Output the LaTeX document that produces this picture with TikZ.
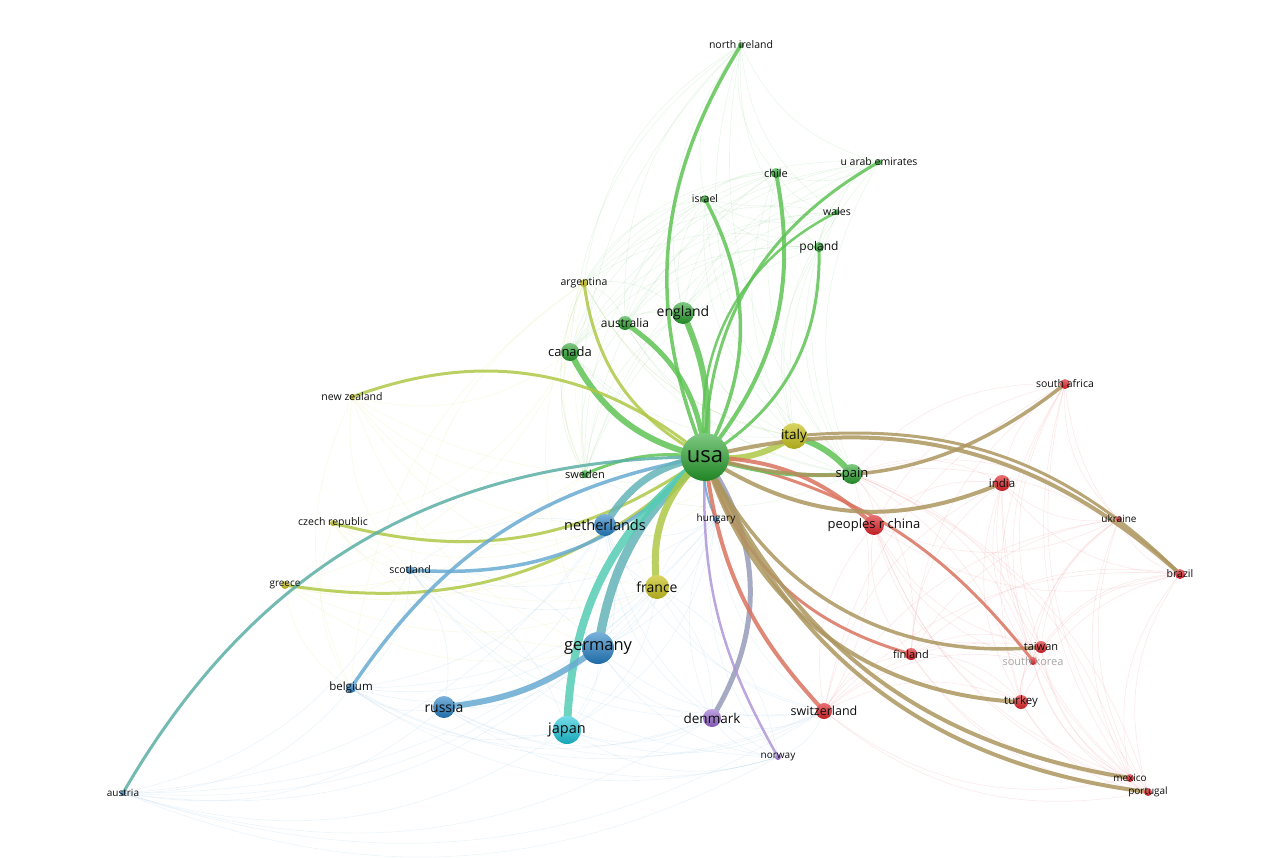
\documentclass[tikz,border=0pt]{standalone}
\usepackage{fontspec}
\setmainfont{Open Sans}
\usetikzlibrary{backgrounds}
% cluster colours
\definecolor{cgreen}{RGB}{40,165,45}
\definecolor{cred}{RGB}{222,35,40}
\definecolor{cblue}{RGB}{35,125,195}
\definecolor{cyel}{RGB}{200,195,30}
\definecolor{ccyan}{RGB}{25,195,215}
\definecolor{cpurp}{RGB}{150,100,205}
% link colours
\definecolor{eGreen}{RGB}{95,195,85}
\definecolor{eYel}{RGB}{175,200,70}
\definecolor{eTeal}{RGB}{90,175,165}
\definecolor{eBlue}{RGB}{105,170,210}
\definecolor{eNeth}{RGB}{100,180,185}
\definecolor{eCyan}{RGB}{85,205,180}
\definecolor{eGrey}{RGB}{150,155,185}
\definecolor{ePurp}{RGB}{175,150,215}
\definecolor{eOlive}{RGB}{172,150,95}
\definecolor{eRed}{RGB}{218,115,95}
\tikzset{
  dot/.style={circle, inner sep=0pt, outer sep=0pt, minimum size=#1},
  grn/.style={dot=#1, top color=cgreen!60!white, bottom color=cgreen!80!black},
  red/.style={dot=#1, top color=cred!65!white, bottom color=cred!85!black},
  blu/.style={dot=#1, top color=cblue!60!white, bottom color=cblue!85!black},
  yel/.style={dot=#1, top color=cyel!70!white, bottom color=cyel!85!black},
  cya/.style={dot=#1, top color=ccyan!60!white, bottom color=ccyan!85!black},
  pur/.style={dot=#1, top color=cpurp!60!white, bottom color=cpurp!85!black},
  lab/.style={font=\fontsize{#1}{#1}\selectfont, text=black!95, inner sep=0pt},
  link/.style={line cap=round, opacity=0.85},
  faint/.style={line width=0.7pt, opacity=0.13},
}
\begin{document}
\begin{tikzpicture}[x=1pt,y=-1pt]
\useasboundingbox (0,0) rectangle (1281,858);
% nodes
\node[grn=48pt] (usa) at (705,457) {};
\node[yel=26pt] (italy) at (794,436) {};
\node[grn=20pt] (spain) at (852,474) {};
\node[red=20pt] (china) at (874,525) {};
\node[red=16pt] (india) at (1002,483) {};
\node[red=10pt] (safrica) at (1065,384) {};
\node[red=6pt] (ukraine) at (1119,519) {};
\node[red=10pt] (brazil) at (1180,574) {};
\node[red=12pt] (taiwan) at (1041,647) {};
\node[red=8pt] (skorea) at (1033,661) {};
\node[red=14pt] (turkey) at (1021,702) {};
\node[red=12pt] (finland) at (911,654) {};
\node[red=16pt] (swiss) at (824,711) {};
\node[red=8pt] (mexico) at (1130,778) {};
\node[red=8pt] (portugal) at (1148,792) {};
\node[pur=18pt] (denmark) at (712,718) {};
\node[pur=6pt] (norway) at (778,757) {};
\node[blu=6pt] (hungary) at (716,519) {};
\node[yel=24pt] (france) at (657,587) {};
\node[blu=32pt] (germany) at (598,648) {};
\node[cya=28pt] (japan) at (567,730) {};
\node[blu=22pt] (russia) at (444,707) {};
\node[blu=10pt] (belgium) at (351,688) {};
\node[blu=6pt] (austria) at (123,793) {};
\node[blu=22pt] (nether) at (605,525) {};
\node[blu=8pt] (scotland) at (410,570) {};
\node[yel=8pt] (greece) at (285,585) {};
\node[yel=6pt] (czech) at (333,523) {};
\node[grn=8pt] (sweden) at (585,474) {};
\node[yel=6pt] (nzealand) at (352,397) {};
\node[grn=18pt] (canada) at (570,352) {};
\node[grn=14pt] (australia) at (625,323) {};
\node[grn=22pt] (england) at (683,313) {};
\node[yel=8pt] (argentina) at (584,283) {};
\node[grn=8pt] (israel) at (705,199) {};
\node[grn=10pt] (chile) at (776,173) {};
\node[grn=6pt] (nire) at (741,45) {};
\node[grn=6pt] (uae) at (879,162) {};
\node[grn=6pt] (wales) at (837,212) {};
\node[grn=10pt] (poland) at (819,247) {};
\begin{scope}[on background layer]
% faint web
\foreach \a [count=\i] in {nire,chile,israel,uae,wales,poland,england,australia,canada,argentina,sweden,spain,italy}
  \foreach \b [count=\j] in {nire,chile,israel,uae,wales,poland,england,australia,canada,argentina,sweden,spain,italy}
    {\ifnum\j>\i \draw[faint, cgreen!70] (\a.center) to[bend right=25] (\b.center);\fi}
\foreach \a [count=\i] in {safrica,india,china,ukraine,brazil,taiwan,skorea,turkey,finland,swiss,mexico,portugal,spain}
  \foreach \b [count=\j] in {safrica,india,china,ukraine,brazil,taiwan,skorea,turkey,finland,swiss,mexico,portugal,spain}
    {\ifnum\j>\i \draw[faint, cred!70] (\a.center) to[bend right=25] (\b.center);\fi}
\foreach \a [count=\i] in {austria,belgium,russia,japan,germany,nether,scotland,hungary,denmark,norway,france,swiss}
  \foreach \b [count=\j] in {austria,belgium,russia,japan,germany,nether,scotland,hungary,denmark,norway,france,swiss}
    {\ifnum\j>\i \draw[faint, cblue!60] (\a.center) to[bend right=25] (\b.center);\fi}
\foreach \a in {nzealand,czech,greece,argentina}
  \foreach \b in {canada,sweden,nether,france,germany,italy,belgium,scotland}
    {\draw[faint, cyel!70] (\a.center) to[bend right=25] (\b.center);}
% links of usa
\draw[link, eGreen, line width=3.5pt] (usa.center) to[bend left=27] (nire.center);
\draw[link, eGreen, line width=3.5pt] (usa.center) to[bend right=28] (israel.center);
\draw[link, eGreen, line width=4pt] (usa.center) to[bend right=25] (chile.center);
\draw[link, eGreen, line width=3pt] (usa.center) to[bend left=30] (uae.center);
\draw[link, eGreen, line width=2.5pt] (usa.center) to[bend left=35] (wales.center);
\draw[link, eGreen, line width=3pt] (usa.center) to[bend right=30] (poland.center);
\draw[link, eGreen, line width=6pt] (usa.center) to[bend right=15] (england.center);
\draw[link, eGreen, line width=5pt] (usa.center) to[bend right=25] (australia.center);
\draw[link, eGreen, line width=6pt] (usa.center) to[bend left=25] (canada.center);
\draw[link, eYel, line width=3pt] (usa.center) to[bend left=27] (argentina.center);
\draw[link, eYel, line width=3pt] (usa.center) to[bend right=30] (nzealand.center);
\draw[link, eGreen, line width=3pt] (usa.center) to[bend right=15] (sweden.center);
\draw[link, eYel, line width=3pt] (usa.center) to[bend left=25] (czech.center);
\draw[link, eYel, line width=3pt] (usa.center) to[bend left=26] (greece.center);
\draw[link, eTeal, line width=3pt] (usa.center) to[bend right=30] (austria.center);
\draw[link, eBlue, line width=3.5pt] (usa.center) to[bend right=23] (belgium.center);
\draw[link, eBlue, line width=3.5pt] (usa.center) to[bend left=25] (scotland.center);
\draw[link, eNeth, line width=7pt] (usa.center) to[bend right=25] (nether.center);
\draw[link, eNeth, line width=9pt] (usa.center) to[bend right=20] (germany.center);
\draw[link, eCyan, line width=8pt] (usa.center) to[bend right=25] (japan.center);
\draw[link, eYel, line width=7pt] (usa.center) to[bend right=28] (france.center);
\draw[link, eBlue, line width=6pt] (russia.center) to[bend right=15] (germany.center);
\draw[link, eGrey, line width=5pt] (usa.center) to[bend left=33] (denmark.center);
\draw[link, ePurp, line width=2.5pt] (usa.center) to[bend right=16] (norway.center);
\draw[link, eBlue, line width=2pt] (usa.center) to[bend right=15] (hungary.center);
\draw[link, eRed, line width=4pt] (usa.center) to[bend right=18] (swiss.center);
\draw[link, eRed, line width=3pt] (usa.center) to[bend right=28] (finland.center);
\draw[link, eOlive, line width=3.5pt] (usa.center) to[bend right=35] (taiwan.center);
\draw[link, eRed, line width=3pt] (usa.center) to[bend left=20] (skorea.center);
\draw[link, eOlive, line width=4pt] (usa.center) to[bend right=35] (turkey.center);
\draw[link, eOlive, line width=4pt] (usa.center) to[bend right=28] (mexico.center);
\draw[link, eOlive, line width=4pt] (usa.center) to[bend right=30] (portugal.center);
\draw[link, eYel, line width=6pt] (usa.center) to[bend right=20] (italy.center);
\draw[link, eGreen, line width=4pt] (usa.center) to[bend right=10] (spain.center);
\draw[link, eGreen, line width=6pt] (italy.center) to[bend left=15] (spain.center);
\draw[link, eRed, line width=4pt] (usa.center) to[bend left=20] (china.center);
\draw[link, eOlive, line width=4pt] (usa.center) to[bend right=28] (india.center);
\draw[link, eOlive, line width=3.5pt] (usa.center) to[bend right=27] (safrica.center);
\draw[link, eOlive, line width=4pt] (usa.center) to[bend left=28] (brazil.center);
\draw[link, eOlive, line width=3pt] (italy.center) to[bend left=25] (brazil.center);
\end{scope}
% labels
\node[lab=22] (usa-t) at (usa) {usa};
\node[lab=13.5] (italy-t) at (italy) {italy};
\node[lab=13] (spain-t) at (spain) {spain};
\node[lab=13] (china-t) at (china) {peoples r china};
\node[lab=11.5] (india-t) at (india) {india};
\node[lab=10.5] (safrica-t) at (safrica) {south africa};
\node[lab=10] (ukraine-t) at (ukraine) {ukraine};
\node[lab=10.5] (brazil-t) at (brazil) {brazil};
\node[lab=11] (taiwan-t) at (taiwan) {taiwan};
\node[lab=11, text=black!35] (skorea-t) at (skorea) {south korea};
\node[lab=11.5] (turkey-t) at (turkey) {turkey};
\node[lab=11] (finland-t) at (finland) {finland};
\node[lab=12.5] (swiss-t) at (swiss) {switzerland};
\node[lab=10] (mexico-t) at (mexico) {mexico};
\node[lab=10] (portugal-t) at (portugal) {portugal};
\node[lab=13.5] (denmark-t) at (denmark) {denmark};
\node[lab=10] (norway-t) at (norway) {norway};
\node[lab=10] (hungary-t) at (hungary) {hungary};
\node[lab=14] (france-t) at (france) {france};
\node[lab=16.5] (germany-t) at (germany) {germany};
\node[lab=14.5] (japan-t) at (japan) {japan};
\node[lab=14] (russia-t) at (russia) {russia};
\node[lab=11.5] (belgium-t) at (belgium) {belgium};
\node[lab=10] (austria-t) at (austria) {austria};
\node[lab=14.5] (nether-t) at (nether) {netherlands};
\node[lab=10.5] (scotland-t) at (scotland) {scotland};
\node[lab=10] (greece-t) at (greece) {greece};
\node[lab=10.5] (czech-t) at (czech) {czech republic};
\node[lab=11] (sweden-t) at (sweden) {sweden};
\node[lab=10.5] (nzealand-t) at (nzealand) {new zealand};
\node[lab=13] (canada-t) at (canada) {canada};
\node[lab=12] (australia-t) at (australia) {australia};
\node[lab=14] (england-t) at (england) {england};
\node[lab=10.5] (argentina-t) at (argentina) {argentina};
\node[lab=10.5] (israel-t) at (israel) {israel};
\node[lab=11] (chile-t) at (chile) {chile};
\node[lab=10.5] (nire-t) at (nire) {north ireland};
\node[lab=10.5] (uae-t) at (uae) {u arab emirates};
\node[lab=10.5] (wales-t) at (wales) {wales};
\node[lab=12] (poland-t) at (poland) {poland};
\end{tikzpicture}
\end{document}
